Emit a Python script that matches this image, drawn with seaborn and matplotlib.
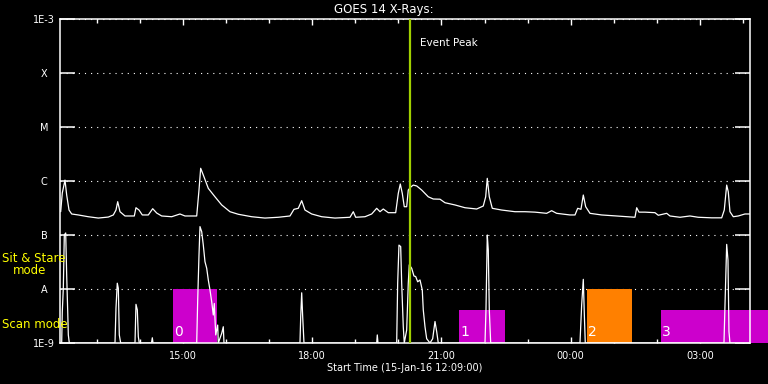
import numpy as np
import pandas as pd
import matplotlib
matplotlib.use('Agg')
from matplotlib import pyplot as plt
import matplotlib.dates as mdates
from matplotlib.ticker import NullLocator
import seaborn as sns

start = pd.Timestamp('2016-01-15 12:09:00')

# GOES 14 long channel (1-8 A): hours after start, flux (W/m^2)
long_hours = [0.016, 0.053, 0.116, 0.155, 0.209, 0.271, 0.425, 0.657, 0.889, 1.121,
              1.237, 1.299, 1.339, 1.392, 1.508, 1.724, 1.763, 1.833, 1.910, 2.049,
              2.151, 2.244, 2.360, 2.592, 2.784, 2.900, 3.172, 3.225, 3.264, 3.325,
              3.441, 3.596, 3.752, 3.944, 4.137, 4.448, 4.756, 5.065, 5.336, 5.429,
              5.529, 5.608, 5.684, 5.840, 6.072, 6.381, 6.729, 6.805, 6.861, 7.077,
              7.232, 7.348, 7.425, 7.501, 7.617, 7.789, 7.849, 7.896, 7.942, 7.988,
              8.044, 8.081, 8.144, 8.197, 8.276, 8.392, 8.545, 8.661, 8.817, 8.933,
              9.165, 9.397, 9.668, 9.821, 9.877, 9.914, 9.961, 10.030, 10.248, 10.557,
              10.789, 11.021, 11.292, 11.408, 11.524, 11.833, 11.949, 12.012, 12.088, 12.142,
              12.197, 12.297, 12.568, 12.916, 13.341, 13.381, 13.434, 13.573, 13.805, 13.882,
              14.077, 14.153, 14.385, 14.617, 14.810, 15.121, 15.353, 15.413, 15.469, 15.506,
              15.545, 15.622, 15.738, 15.893, 16.009]
long_flux = [2.7e-7, 6.0e-7, 1.04e-6, 5.5e-7, 2.9e-7, 2.45e-7, 2.35e-7, 2.18e-7, 2.06e-7, 2.15e-7,
             2.35e-7, 2.9e-7, 4.14e-7, 2.7e-7, 2.25e-7, 2.25e-7, 3.2e-7, 2.9e-7, 2.35e-7, 2.35e-7,
             3.07e-7, 2.55e-7, 2.25e-7, 2.18e-7, 2.45e-7, 2.25e-7, 2.25e-7, 6.8e-7, 1.72e-6, 1.29e-6,
             7.3e-7, 5.1e-7, 3.6e-7, 2.7e-7, 2.42e-7, 2.18e-7, 2.06e-7, 2.13e-7, 2.25e-7, 2.99e-7,
             3.12e-7, 4.32e-7, 2.9e-7, 2.45e-7, 2.18e-7, 2.06e-7, 2.13e-7, 2.7e-7, 2.13e-7, 2.18e-7,
             2.45e-7, 3.12e-7, 2.7e-7, 3.03e-7, 2.59e-7, 2.59e-7, 5.9e-7, 8.8e-7, 5.9e-7, 3.34e-7,
             3.34e-7, 6.8e-7, 7.8e-7, 8.4e-7, 8.1e-7, 6.8e-7, 5.1e-7, 4.64e-7, 4.6e-7, 3.96e-7,
             3.6e-7, 3.2e-7, 3.03e-7, 3.44e-7, 5.1e-7, 1.12e-6, 5.1e-7, 3.12e-7, 2.9e-7, 2.7e-7,
             2.7e-7, 2.65e-7, 2.52e-7, 2.82e-7, 2.52e-7, 2.35e-7, 2.35e-7, 3.12e-7, 2.99e-7, 5.5e-7,
             3.34e-7, 2.52e-7, 2.35e-7, 2.25e-7, 2.13e-7, 3.2e-7, 2.65e-7, 2.65e-7, 2.59e-7, 2.32e-7,
             2.52e-7, 2.25e-7, 2.13e-7, 2.25e-7, 2.13e-7, 2.08e-7, 2.08e-7, 2.9e-7, 8.4e-7, 6.3e-7,
             2.7e-7, 2.18e-7, 2.25e-7, 2.45e-7, 2.45e-7]

# GOES 14 short channel (0.5-4 A)
short_hours = [0.0, 0.039, 0.053, 0.077, 0.100, 0.132, 0.155, 0.179, 0.193, 0.216,
               1.276, 1.299, 1.329, 1.353, 1.376, 1.408, 1.740, 1.763, 1.794, 1.817,
               1.840, 2.123, 2.142, 2.158, 3.172, 3.195, 3.225, 3.248, 3.288, 3.325,
               3.364, 3.404, 3.441, 3.480, 3.520, 3.557, 3.580, 3.613, 3.659, 3.673,
               3.752, 3.789, 3.805, 5.568, 5.585, 5.608, 5.631, 5.661, 7.348, 7.362,
               7.378, 7.812, 7.835, 7.865, 7.905, 7.928, 7.965, 7.988, 8.044, 8.081,
               8.104, 8.160, 8.213, 8.253, 8.299, 8.353, 8.406, 8.429, 8.469, 8.508,
               8.585, 8.647, 8.701, 8.740, 8.777, 9.861, 9.884, 9.914, 9.937, 9.961,
               9.993, 12.065, 12.104, 12.142, 12.165, 12.188, 15.406, 15.436, 15.469, 15.499,
               15.522, 15.545, 16.009]
short_flux = [1.0e-9, 1.0e-9, 3.8e-9, 1.03e-8, 1.0e-7, 1.09e-7, 1.82e-8, 3.8e-9, 1.41e-9, 1.0e-9,
              1.0e-9, 4.4e-9, 1.28e-8, 1.03e-8, 1.41e-9, 1.0e-9, 1.0e-9, 5.2e-9, 4.1e-9, 1.31e-9,
              1.0e-9, 1.0e-9, 1.25e-9, 1.0e-9, 1.0e-9, 6.25e-9, 4.27e-8, 1.43e-7, 1.15e-7, 6.5e-8,
              3.2e-8, 2.42e-8, 1.47e-8, 9.6e-9, 5.8e-9, 3.3e-9, 5.4e-9, 1.41e-9, 2.15e-9, 1.0e-9,
              1.51e-9, 2.0e-9, 1.0e-9, 1.0e-9, 3.07e-9, 8.5e-9, 3.07e-9, 1.0e-9, 1.0e-9, 1.41e-9,
              1.0e-9, 1.0e-9, 1.28e-8, 6.5e-8, 6.1e-8, 1.28e-8, 2.0e-9, 1.0e-9, 1.74e-9, 1.28e-8,
              2.8e-8, 2.42e-8, 1.74e-8, 1.7e-8, 1.36e-8, 1.47e-8, 9.6e-9, 4.1e-9, 2.0e-9, 1.2e-9,
              1.0e-9, 1.2e-9, 2.5e-9, 1.63e-9, 1.0e-9, 1.0e-9, 4.1e-9, 1.0e-7, 5.3e-8, 4.1e-9,
              1.0e-9, 1.0e-9, 5.05e-9, 1.51e-8, 3.55e-9, 1.0e-9, 1.0e-9, 7.7e-9, 6.7e-8, 3.44e-8,
              1.63e-9, 1.0e-9, 1.0e-9]

# observing blocks (sit & stare reaches class A, scan mode lower)
block_ids = ['0', '1', '2', '3']
block_start = [2.62, 9.26, 12.23, 13.94]
block_end = [3.64, 10.33, 13.27, 16.6]
block_top = [1.0e-8, 4.1e-9, 1.0e-8, 4.1e-9]
block_color = ['#cc00cc', '#cc00cc', '#ff8000', '#cc00cc']

peak_hour = 8.12
y_ticks = [1e-9, 1e-8, 1e-7, 1e-6, 1e-5, 1e-4, 1e-3]
y_labels = ['1E-9', 'A', 'B', 'C', 'M', 'X', '1E-3']


def to_time(hours):
    return start + pd.to_timedelta(np.asarray(hours), unit='h')


df_long = pd.DataFrame({'time': to_time(long_hours), 'flux': long_flux})
df_short = pd.DataFrame({'time': to_time(short_hours), 'flux': short_flux})

sns.set_theme(style='dark', rc={'axes.facecolor': 'black', 'figure.facecolor': 'black',
                                'axes.edgecolor': 'white', 'text.color': 'white',
                                'xtick.color': 'white', 'ytick.color': 'white',
                                'axes.labelcolor': 'white'})
plt.rcParams['font.family'] = ['DejaVu Sans']

fig = plt.figure(figsize=(7.68, 3.84), dpi=100)
ax = fig.add_axes([60 / 768, 41 / 384, 690 / 768, 324 / 384])
ax.set_yscale('log')

# observing blocks
bx = mdates.date2num(to_time(block_start))
bw = mdates.date2num(to_time(block_end)) - bx
for x0, w, top, c, lab in zip(bx, bw, block_top, block_color, block_ids):
    ax.bar(x0, top - 1e-9, width=w, bottom=1e-9, align='edge', color=c,
           linewidth=0, clip_on=False, zorder=1)
    ax.annotate(lab, xy=(x0, 1.6e-9), xytext=(1, 0), textcoords='offset points',
                color='white', fontsize=10, va='center', ha='left', zorder=4)

sns.lineplot(data=df_long, x='time', y='flux', color='white', lw=0.9,
             estimator=None, ax=ax, zorder=3)
sns.lineplot(data=df_short, x='time', y='flux', color='white', lw=0.9,
             estimator=None, ax=ax, zorder=3)

peak_time = start + pd.Timedelta(hours=peak_hour)
ax.axvline(peak_time, color='#a0d000', lw=1.6, zorder=5)
ax.annotate('Event Peak', xy=(peak_time, 1), xycoords=('data', 'axes fraction'),
            xytext=(7.5, -17.3), textcoords='offset points', color='white',
            fontsize=7.5, va='center', ha='left')

ax.set_xlim(start, start + pd.Timedelta(hours=16.01))
ax.set_ylim(1e-9, 1e-3)
ax.set_xlabel('')
ax.set_ylabel('')

ax.xaxis.set_major_locator(mdates.HourLocator(byhour=range(0, 24, 3)))
ax.xaxis.set_minor_locator(mdates.HourLocator())
ax.xaxis.set_major_formatter(mdates.DateFormatter('%H:%M'))
ax.tick_params(axis='x', which='both', direction='in', top=True, bottom=True,
               color='white', width=1)
ax.tick_params(axis='x', which='major', length=4.5, pad=6, labelsize=7)
ax.tick_params(axis='x', which='minor', length=2.8)

ax.set_yticks(y_ticks)
ax.set_yticklabels(y_labels)
ax.yaxis.set_minor_locator(NullLocator())
ax.tick_params(axis='y', which='major', direction='in', left=True, right=True,
               length=10.8, width=1.1, pad=11.5, labelsize=7, color='white')
for t in ax.get_yticklabels():
    t.set_ha('center')

ax.grid(False)
ax.yaxis.grid(True, color='white', linestyle=(0, (1, 4.5)), lw=0.8)
for s in ax.spines.values():
    s.set_color('white')
    s.set_linewidth(1.1)

fig.text(0.5, 1 - 10 / 384, 'GOES 14 X-Rays:', ha='center', va='center',
         fontsize=8.5, color='white')
fig.text(405 / 768, 1 - 368 / 384, 'Start Time (15-Jan-16 12:09:00)', ha='center',
         va='center', fontsize=7, color='white')
fig.text(2 / 768, 1 - 259 / 384, 'Sit & Stare', ha='left', va='center',
         fontsize=8.5, color='yellow')
fig.text(12.7 / 768, 1 - 271 / 384, 'mode', ha='left', va='center',
         fontsize=8.5, color='yellow')
fig.text(2 / 768, 1 - 324 / 384, 'Scan mode', ha='left', va='center',
         fontsize=8.5, color='yellow')

fig.savefig('out.png', dpi=100, facecolor='black')
